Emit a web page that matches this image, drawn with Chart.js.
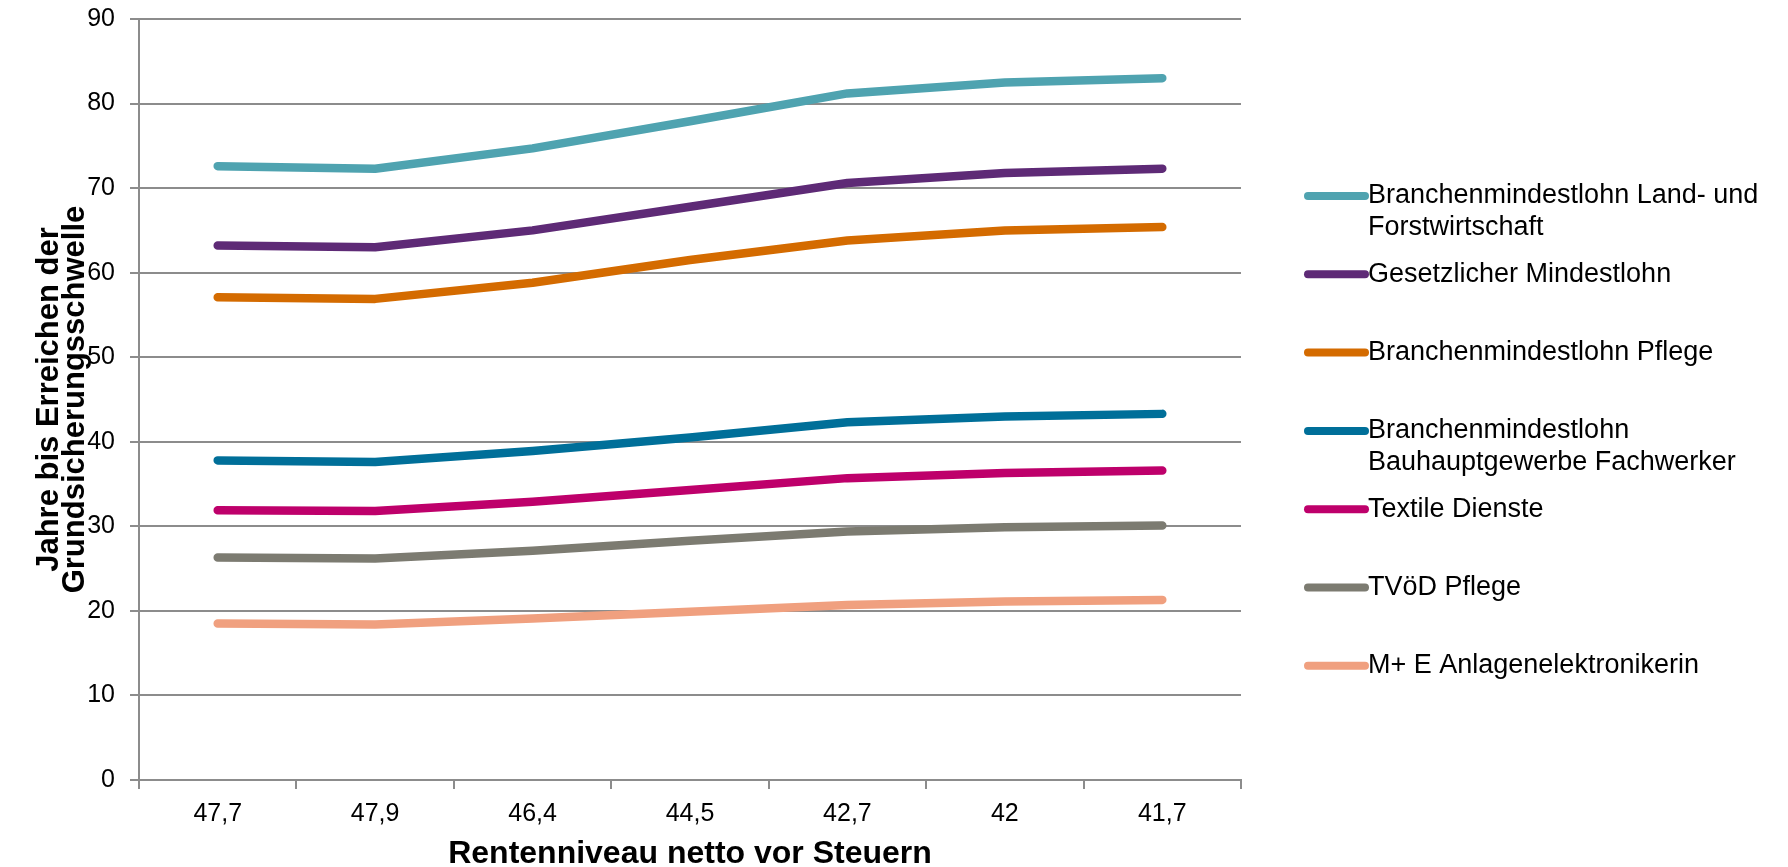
<!DOCTYPE html>
<html lang="de">
<head>
<meta charset="utf-8">
<title>Jahre bis Erreichen der Grundsicherungsschwelle</title>
<script src="https://cdn.jsdelivr.net/npm/chart.js@4/dist/chart.umd.min.js"></script>
<style>
  html, body { margin: 0; padding: 0; background: #fff; }
  #chartWrapper { width: 1788px; height: 867px; }
</style>
</head>
<body>
<div id="chartWrapper">
  <canvas id="rentenChart" width="1788" height="867"></canvas>
</div>
<script>
"use strict";

// x categories: Rentenniveau netto vor Steuern
const rentenniveau = ["47,7", "47,9", "46,4", "44,5", "42,7", "42", "41,7"];

// series names (legend lines)
const seriesNames = [
  ["Branchenmindestlohn Land- und", "Forstwirtschaft"],
  ["Gesetzlicher Mindestlohn"],
  ["Branchenmindestlohn Pflege"],
  ["Branchenmindestlohn", "Bauhauptgewerbe Fachwerker"],
  ["Textile Dienste"],
  ["TVöD Pflege"],
  ["M+ E Anlagenelektronikerin"],
];

// years until reaching the Grundsicherung threshold
const landForst = [72.6, 72.3, 74.7, 77.9, 81.2, 82.5, 83.0];
const gesetzlich = [63.2, 63.0, 65.0, 67.8, 70.6, 71.8, 72.3];
const pflege = [57.1, 56.9, 58.8, 61.5, 63.8, 65.0, 65.4];
const bauFachwerker = [37.8, 37.6, 38.9, 40.5, 42.3, 43.0, 43.3];
const textil = [31.9, 31.8, 32.9, 34.3, 35.7, 36.3, 36.6];
const tvoedPflege = [26.3, 26.2, 27.1, 28.3, 29.4, 29.9, 30.1];
const anlagenelektronikerin = [18.5, 18.4, 19.1, 19.9, 20.7, 21.1, 21.3];

const seriesColors = ["#4fa3b0", "#5e2a76", "#d46b00", "#006f99", "#be006b", "#7c7b71", "#f0a07f"];
const seriesValues = [landForst, gesetzlich, pflege, bauFachwerker, textil, tvoedPflege, anlagenelektronikerin];

const FONT = "'Liberation Sans', Arial, sans-serif";
const AXIS_GRAY = "#8c8c8c";

// legend on the right, one row per series, text can wrap to 2 lines
const sideLegend = {
  id: "sideLegend",
  afterDraw(chart) {
    const ctx = chart.ctx;
    const markerLeft = 1308;
    const markerRight = 1365;
    const textLeft = 1368;
    const firstRow = 196;
    const rowStep = 78.3;
    const lineStep = 32;
    ctx.save();
    ctx.font = "27px " + FONT;
    ctx.textBaseline = "middle";
    ctx.textAlign = "left";
    chart.data.datasets.forEach((ds, i) => {
      const y = firstRow + i * rowStep;
      ctx.strokeStyle = ds.borderColor;
      ctx.lineWidth = 8;
      ctx.lineCap = "round";
      ctx.beginPath();
      ctx.moveTo(markerLeft, y);
      ctx.lineTo(markerRight, y);
      ctx.stroke();
      ctx.fillStyle = "#000";
      ds.labelLines.forEach((line, k) => {
        ctx.fillText(line, textLeft, y + k * lineStep);
      });
    });
    ctx.restore();
  },
};

const chartCanvas = document.querySelector("canvas#rentenChart");
if (chartCanvas) {
  const chart = new Chart(chartCanvas, {
    type: "line",
    data: {
      labels: rentenniveau,
      datasets: seriesValues.map((values, i) => ({
        label: seriesNames[i].join(" "),
        labelLines: seriesNames[i],
        data: values,
        borderColor: seriesColors[i],
        backgroundColor: seriesColors[i],
        borderWidth: 8.5,
        borderCapStyle: "round",
        borderJoinStyle: "round",
        pointRadius: 0,
        pointHoverRadius: 0,
        tension: 0,
        fill: false,
      })),
    },
    options: {
      responsive: false,
      animation: false,
      devicePixelRatio: 1,
      layout: {
        padding: { top: 19, right: 547, bottom: 0, left: 0 },
      },
      plugins: {
        legend: { display: false },
        tooltip: { enabled: false },
      },
      scales: {
        x: {
          type: "category",
          offset: true,
          afterFit: (scale) => {
            scale.height = 87;
          },
          grid: {
            offset: true,
            drawOnChartArea: false,
            drawTicks: true,
            tickLength: 9,
            color: AXIS_GRAY,
            lineWidth: 2,
          },
          border: { color: AXIS_GRAY, width: 2 },
          ticks: {
            color: "#000",
            padding: 10,
            maxRotation: 0,
            font: { family: FONT, size: 25 },
          },
          title: {
            display: true,
            text: "Rentenniveau netto vor Steuern",
            color: "#000",
            padding: { top: 0, bottom: 0 },
            font: { family: FONT, size: 32, weight: "bold", lineHeight: 0.8 },
          },
        },
        y: {
          min: 0,
          max: 90,
          afterFit: (scale) => {
            scale.width = 139;
            // tick label padding would otherwise push the plot top down
            scale.paddingTop = 0;
            scale.paddingBottom = 0;
          },
          grid: {
            color: AXIS_GRAY,
            lineWidth: 2,
            drawTicks: true,
            tickLength: 9,
          },
          border: { color: AXIS_GRAY, width: 2 },
          ticks: {
            stepSize: 10,
            color: "#000",
            padding: 15,
            font: { family: FONT, size: 25 },
          },
          title: {
            display: true,
            text: ["Jahre bis Erreichen der", "Grundsicherungsschwelle"],
            color: "#000",
            padding: { top: 36, bottom: 0 },
            font: { family: FONT, size: 31, weight: "bold", lineHeight: 0.85 },
          },
        },
      },
    },
    plugins: [sideLegend],
  });
}
</script>
</body>
</html>
